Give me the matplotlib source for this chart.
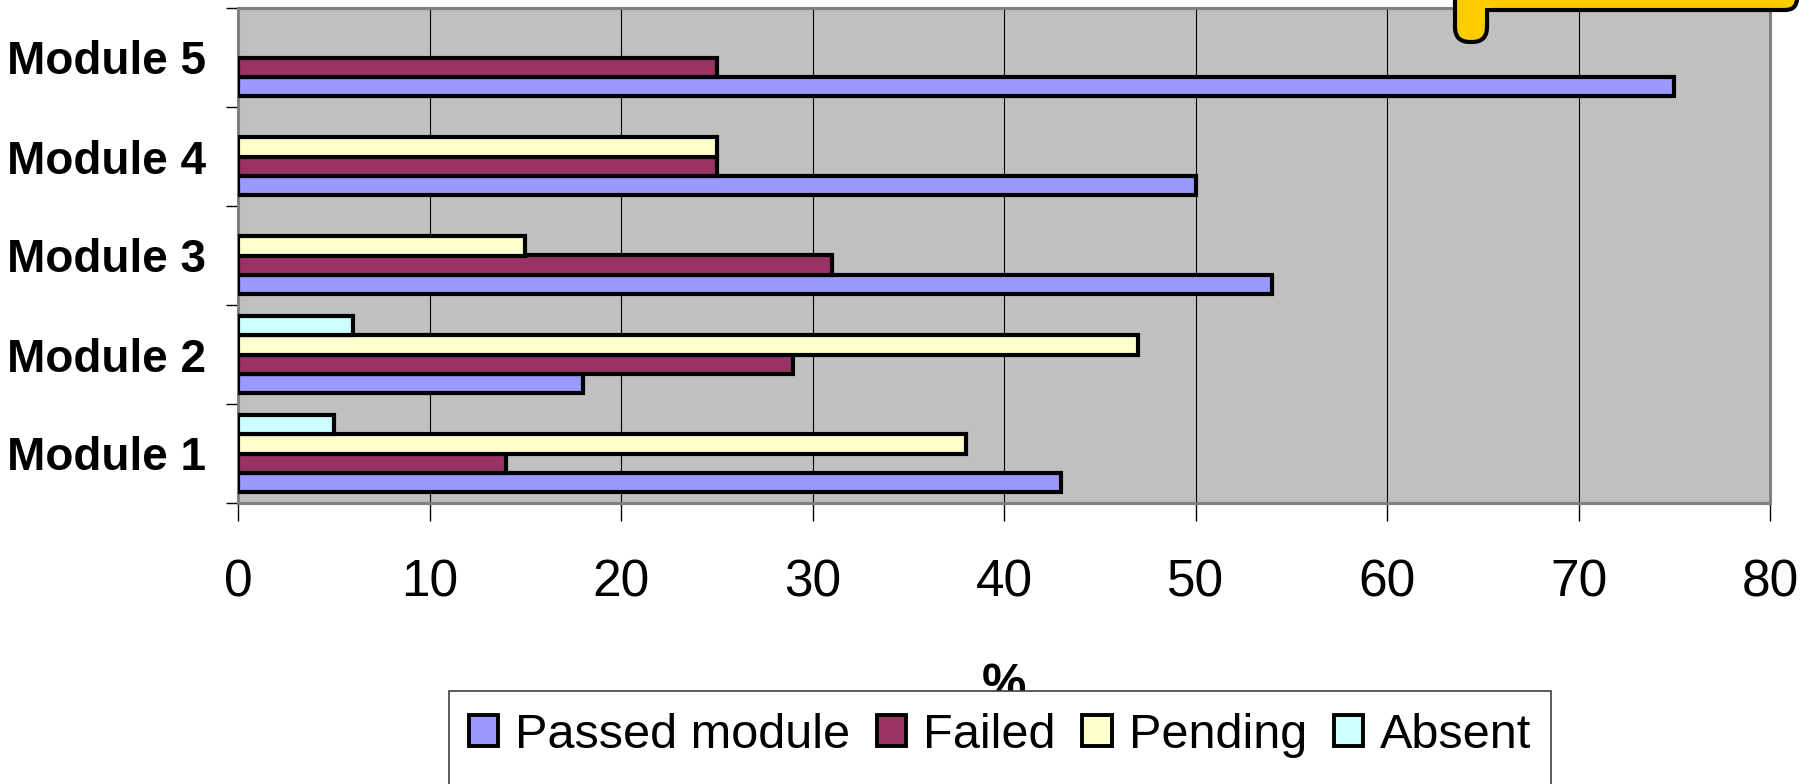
import numpy as np
import matplotlib
matplotlib.use("Agg")
import matplotlib.pyplot as plt
from matplotlib.patches import Patch, Rectangle, FancyBboxPatch

plt.rcParams["font.family"] = ["Liberation Sans", "DejaVu Sans"]

# Data
modules = ["Module 1", "Module 2", "Module 3", "Module 4", "Module 5"]
series = ["Passed module", "Failed", "Pending", "Absent"]
passed = [43, 18, 54, 50, 75]
failed = [14, 29, 31, 25, 25]
pending = [38, 47, 15, 25, np.nan]
absent = [5, 6, np.nan, np.nan, np.nan]
colors = ["#9999FF", "#993366", "#FFFFCC", "#CCFFFF"]
xticks = list(range(0, 81, 10))

W, H = 1814, 784
fig = plt.figure(figsize=(W / 100, H / 100), dpi=100)
ax = fig.add_axes([238 / W, 1 - 503 / H, (1770 - 238) / W, (503 - 8) / H])
ax.set_facecolor("#C0C0C0")

y = np.arange(len(modules))
h = 0.195
for k, vals in enumerate([passed, failed, pending, absent]):
    ax.barh(y + (k - 1.5) * h, vals, height=h, color=colors[k],
            edgecolor="black", linewidth=3.0, zorder=3)

ax.set_xlim(0, 80)
ax.set_ylim(-0.5, len(modules) - 0.5)
ax.set_xticks(xticks)
ax.set_xticklabels([str(t) for t in xticks], fontsize=37)
ax.set_yticks(y)
ax.set_yticklabels(modules, fontsize=33, fontweight="bold")
ax.set_yticks(np.arange(-0.5, len(modules), 1.0), minor=True)
ax.tick_params(axis="y", which="major", length=0, pad=23)
ax.tick_params(axis="y", which="minor", length=8.6, width=1, color="black", direction="out")
ax.tick_params(axis="x", which="major", length=13, width=1, color="black", pad=27)

ax.grid(axis="x", color="black", linewidth=0.8, zorder=1)
ax.set_axisbelow(True)
for s in ax.spines.values():
    s.set_color("#808080")
    s.set_linewidth(2.2)

ax.set_xlabel("%", fontsize=36, fontweight="bold")
ax.xaxis.label.set_va("center")
ax.xaxis.set_label_coords(0.5, (503 - 686) / 495)

# legend box (runs off the bottom edge of the picture)
fig.patches.append(Rectangle((449 / W, 1 - 691 / H - 0.3), 1102 / W, 0.3,
                             transform=fig.transFigure, facecolor="white",
                             edgecolor="#404040", linewidth=1.2, zorder=4))
handles = [Patch(facecolor=c, edgecolor="black", linewidth=2.8) for c in colors]
leg = fig.legend(handles, series, loc="center", bbox_to_anchor=(1000 / W, 1 - 735 / H),
                 ncol=4, frameon=False, fontsize=35, handlelength=0.6,
                 handleheight=0.6, handletextpad=0.35, columnspacing=0.55,
                 borderaxespad=0)
leg.set_zorder(5)

# yellow callout cut off at the top right
t = fig.dpi_scale_trans
yellow = "#FFCC00"
box = FancyBboxPatch((14.55, (H - 10) / 100), 3.42, 1.0,
                     boxstyle="round,pad=0,rounding_size=0.12", transform=t,
                     facecolor=yellow, edgecolor="black", linewidth=3, zorder=10)
stem = FancyBboxPatch((14.55, (H - 42) / 100), 0.32, 1.5,
                      boxstyle="round,pad=0,rounding_size=0.15", transform=t,
                      facecolor=yellow, edgecolor="black", linewidth=3, zorder=11)
seam1 = Rectangle((14.59, (H - 8) / 100), 0.32, 0.2, transform=t,
                  facecolor=yellow, edgecolor="none", zorder=12)
seam2 = Rectangle((14.59, (H - 16) / 100), 0.24, 0.12, transform=t,
                  facecolor=yellow, edgecolor="none", zorder=12)
for p in (box, stem, seam1, seam2):
    fig.patches.append(p)

fig.savefig("out.png", dpi=100)
